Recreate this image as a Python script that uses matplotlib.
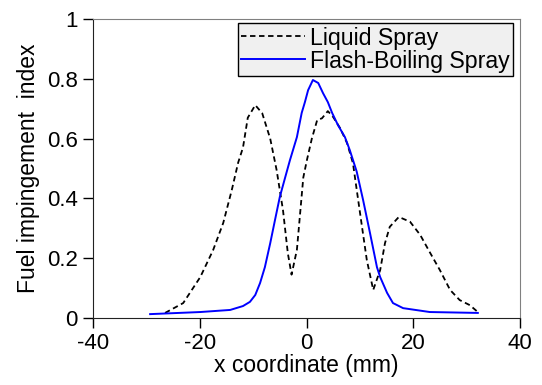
import numpy as np
import matplotlib.pyplot as plt

plt.rcParams['font.family'] = ['Liberation Sans', 'DejaVu Sans']
plt.rcParams['axes.unicode_minus'] = False

# Liquid spray (black dashed)
liquid_x = [-26.5, -23.1, -19.9, -17.5, -15.6, -14.0, -12.8, -11.9, -11.0, -9.6,
            -8.3, -6.8, -5.6, -4.4, -3.5, -2.8, -1.8, -0.6, 0.1, 1.0, 2.0, 2.9,
            4.0, 5.0, 6.3, 7.6, 8.7, 9.4, 10.4, 11.3, 12.5, 13.8, 14.7, 15.6, 17.3,
            19.4, 21.3, 23.1, 25.0, 26.9, 28.7, 30.6, 32.1]
liquid_y = [0.017, 0.05, 0.137, 0.227, 0.318, 0.428, 0.52, 0.57, 0.67, 0.712,
            0.685, 0.60, 0.495, 0.36, 0.217, 0.145, 0.228, 0.47, 0.53, 0.60, 0.662, 0.668,
            0.692, 0.672, 0.635, 0.585, 0.518, 0.43, 0.305, 0.194, 0.094, 0.16, 0.25, 0.305, 0.338,
            0.322, 0.278, 0.22, 0.16, 0.094, 0.06, 0.043, 0.02]

# Flash-boiling spray (blue solid)
flash_x = [-29.3, -19.9, -14.3, -11.9, -10.6, -9.6, -8.7, -7.8, -6.8, -5.9, -5.0,
           -4.0, -3.1, -1.8, -0.9, -0.3, 0.3, 1.2, 2.2, 3.1, 4.0, 4.8, 5.9, 7.2,
           8.1, 9.4, 10.6, 11.9, 13.2, 13.8, 15.1, 16.2, 18.1, 23.1, 32.1]
flash_y = [0.013, 0.02, 0.027, 0.04, 0.054, 0.077, 0.117, 0.17, 0.25, 0.328, 0.405,
           0.47, 0.528, 0.605, 0.686, 0.722, 0.762, 0.796, 0.786, 0.752, 0.722, 0.686, 0.645, 0.605,
           0.562, 0.49, 0.395, 0.284, 0.17, 0.137, 0.084, 0.05, 0.033, 0.02, 0.017]

fig = plt.figure(figsize=(5.42, 3.85), dpi=100)
ax = fig.add_axes([0.1716, 0.174, 0.7878, 0.7766])

ax.plot(liquid_x, liquid_y, color='black', linestyle=(0, (3, 2)), linewidth=1.3, label='Liquid Spray')
ax.plot(flash_x, flash_y, color='blue', linewidth=1.4, label='Flash-Boiling Spray')

ax.set_xlim(-40, 40)
ax.set_ylim(0, 1)
ax.set_xticks([-40, -20, 0, 20, 40])
ax.set_yticks([0, 0.2, 0.4, 0.6, 0.8, 1])
ax.set_yticklabels(['0', '0.2', '0.4', '0.6', '0.8', '1'])
ax.tick_params(direction='out', length=7, width=1, labelsize=16, pad=4)

for s in ['left', 'bottom']:
    ax.spines[s].set_color('#222222')
for s in ['top', 'right']:
    ax.spines[s].set_color('#808080')

ax.set_xlabel('x coordinate (mm)', fontsize=16.5, labelpad=0)
ax.set_ylabel('Fuel impingement  index', fontsize=16.5, labelpad=5)

leg = ax.legend(loc='upper right', bbox_to_anchor=(0.9836, 0.9866), borderaxespad=0,
                fontsize=16.7, handlelength=2.75, handletextpad=0.2, labelspacing=0.0,
                borderpad=0.15, fancybox=False, framealpha=1,
                facecolor='#f0f0f0', edgecolor='black')
leg.get_frame().set_linewidth(1)

fig.savefig('out.png', dpi=100)
